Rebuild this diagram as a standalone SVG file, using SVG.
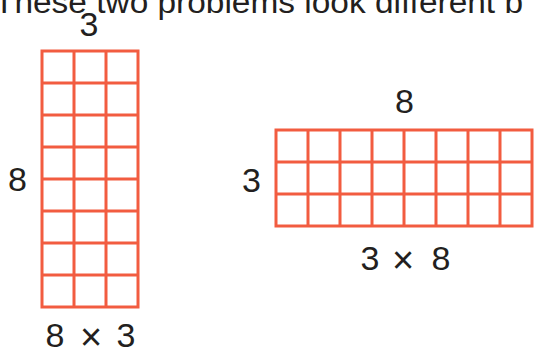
<svg xmlns="http://www.w3.org/2000/svg" width="534" height="352" viewBox="0 0 534 352">
<style>
.t{font-family:"Liberation Sans",Arial,sans-serif;font-size:34px;fill:#231f20;text-anchor:middle}
.x{font-size:38px}
.g{fill:none;stroke:#f25c40;stroke-width:3}
</style>
<rect width="534" height="352" fill="#fff"/>
<text class="t" x="-6" y="13" style="font-size:31px;text-anchor:start" textLength="529" lengthAdjust="spacingAndGlyphs">These two problems look different b</text>
<g id="grid-8x3">
<rect class="g" x="42" y="51" width="96" height="256"/>
<path class="g" d="M74 51V307M106 51V307M42 83H138M42 115H138M42 147H138M42 179H138M42 211H138M42 243H138M42 275H138"/>
<text class="t" x="89" y="36">3</text>
<text class="t" x="17.5" y="191">8</text>
<text class="t"><tspan x="55" y="347">8</tspan><tspan class="x" x="91" y="350">×</tspan><tspan x="126" y="347">3</tspan></text>
</g>
<g id="grid-3x8">
<rect class="g" x="276" y="130" width="256" height="96"/>
<path class="g" d="M308 130V226M340 130V226M372 130V226M404 130V226M436 130V226M468 130V226M500 130V226M276 162H532M276 194H532"/>
<text class="t" x="404.5" y="113">8</text>
<text class="t" x="251.5" y="192">3</text>
<text class="t"><tspan x="370" y="270">3</tspan><tspan class="x" x="403" y="273">×</tspan><tspan x="441" y="270">8</tspan></text>
</g>
<g id="connectors"></g>
</svg>
